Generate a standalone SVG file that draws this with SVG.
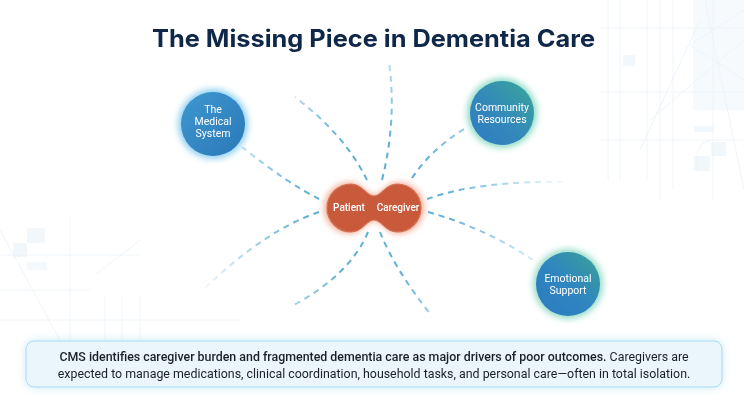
<svg xmlns="http://www.w3.org/2000/svg" width="744" height="400" viewBox="0 0 744 400">
  <defs>
    <style>
      .title { font-family: Inter, "Noto Sans", sans-serif; font-weight: 700; font-size: 24px; fill: #0f2748; }
      .nlabel { font-family: Roboto, "Noto Sans", sans-serif; font-weight: 400; font-size: 10.5px; fill: #ffffff; text-anchor: middle; }
      .clabel { font-family: Roboto, "Noto Sans", sans-serif; font-weight: 500; font-size: 10px; fill: #ffffff; text-anchor: middle; }
      .conn path { fill: none; stroke: #5eb0d8; stroke-width: 2; stroke-dasharray: 6 5; stroke-linecap: butt; }
      .body { font-family: Roboto, "Noto Sans", sans-serif; font-size: 12.4px; fill: #1b1f2a; }
      .bold { font-weight: 500; }
      .deco { fill: none; stroke: #e6eff6; stroke-width: 0.8; }
      .decof { fill: #eef5fb; }
    </style>
    <radialGradient id="fade" gradientUnits="userSpaceOnUse" cx="374" cy="208" r="200">
      <stop offset="0" stop-color="#fff" stop-opacity="1"/>
      <stop offset="0.35" stop-color="#fff" stop-opacity="1"/>
      <stop offset="1" stop-color="#fff" stop-opacity="0"/>
    </radialGradient>
    <mask id="connMask" maskUnits="userSpaceOnUse" x="0" y="0" width="744" height="400">
      <rect x="0" y="0" width="744" height="400" fill="url(#fade)"/>
    </mask>
    <linearGradient id="gBlue" x1="0" y1="0" x2="1" y2="1">
      <stop offset="0" stop-color="#3f98cf"/>
      <stop offset="1" stop-color="#2a78b8"/>
    </linearGradient>
    <linearGradient id="gTeal" x1="1" y1="0" x2="0" y2="1">
      <stop offset="0" stop-color="#3aa797"/>
      <stop offset="0.55" stop-color="#3388bb"/>
      <stop offset="1" stop-color="#2e7cc0"/>
    </linearGradient>
    <linearGradient id="gTeal2" x1="1" y1="0" x2="0" y2="1">
      <stop offset="0" stop-color="#3aa394"/>
      <stop offset="0.5" stop-color="#2f86c0"/>
      <stop offset="1" stop-color="#2c7bbf"/>
    </linearGradient>
    <filter id="glow" x="-50%" y="-50%" width="200%" height="200%">
      <feGaussianBlur stdDeviation="3"/>
    </filter>
    <filter id="boxGlow" x="-10%" y="-50%" width="120%" height="200%">
      <feGaussianBlur stdDeviation="5"/>
    </filter>
    <path id="blob" d="M351 184 C363 184 366 196 374 196 C382 196 385 184 397 184 A24 24 0 0 1 397 232 C385 232 382 220 374 220 C366 220 363 232 351 232 A24 24 0 0 1 351 184 Z"/>
  </defs>

  <rect x="0" y="0" width="744" height="400" fill="#ffffff"/>

  <!-- background decoration -->
  <g id="decoration" opacity="0.8">
    <rect class="decof" x="693" y="0" width="51" height="110" opacity="0.6"/>
    <rect class="decof" x="623" y="55" width="12" height="11"/>
    <rect class="decof" x="694" y="126" width="20" height="6"/>
    <rect class="decof" x="711" y="142" width="15" height="14"/>
    <rect class="decof" x="694" y="156" width="16" height="15"/>
    <path class="deco" d="M608 0 V180 M620 0 V180 M647 0 V180 M660 0 V200 M673 0 V190 M713 0 V200 M600 28 H744 M600 92 H744 M600 140 H744"/>
    <path class="deco" d="M744 10 L690 45 L744 80 M650 120 L744 40 M705 0 L744 190 M700 20 L640 150 M713 140 A16 16 0 0 0 697 156 V171"/>
    <rect class="decof" x="27" y="228" width="18" height="15"/>
    <rect class="decof" x="13" y="243" width="14" height="14"/>
    <rect class="decof" x="27" y="262" width="20" height="8" opacity="0.7"/>
    <path class="deco" d="M0 255 H140 M0 320 H240 M70 215 V340 M0 290 H90 M95 275 L140 240 M0 230 L60 340 M105 295 V340 M122 295 V340 M140 295 V340"/>
  </g>

  <text class="title" x="152" y="47" textLength="443" lengthAdjust="spacingAndGlyphs">The Missing Piece in Dementia Care</text>

  <!-- connectors -->
  <g id="connectors" class="conn" mask="url(#connMask)">
    <path d="M319 199 Q290 185 242 147"/>
    <path d="M319 212 Q265 230 203 290"/>
    <path d="M367 180 Q345 135 295 97"/>
    <path d="M382 180 Q397 120 389 62"/>
    <path d="M412 178 Q432 148 466 128"/>
    <path d="M427 199 Q480 180 572 182"/>
    <path d="M428 212 Q485 228 533 260"/>
    <path d="M368 232 Q350 275 292 306"/>
    <path d="M380 232 Q395 270 432 316"/>
  </g>

  <!-- center node -->
  <g id="node-center">
    <use href="#blob" fill="#f3a890" filter="url(#glow)" transform="translate(374 208) scale(1.06) translate(-374 -208)"/>
    <use href="#blob" fill="#c85a3b" stroke="#d57357" stroke-width="1.2"/>
    <text class="clabel" x="349" y="211">Patient</text>
    <text class="clabel" x="398" y="211">Caregiver</text>
  </g>

  <g id="node-medical">
    <circle cx="213" cy="124" r="35" fill="#8fd0f2" filter="url(#glow)"/>
    <circle cx="213" cy="124" r="32" fill="url(#gBlue)"/>
    <text class="nlabel" x="213" y="113">The</text>
    <text class="nlabel" x="213" y="125">Medical</text>
    <text class="nlabel" x="213" y="137">System</text>
  </g>

  <g id="node-community">
    <circle cx="502" cy="113" r="35" fill="#8fdcc6" filter="url(#glow)"/>
    <circle cx="502" cy="113" r="32" fill="url(#gTeal)"/>
    <text class="nlabel" x="502" y="111">Community</text>
    <text class="nlabel" x="502" y="123">Resources</text>
  </g>

  <g id="node-emotional">
    <circle cx="568" cy="284" r="35" fill="#96dcc8" filter="url(#glow)"/>
    <circle cx="568" cy="284" r="32" fill="url(#gTeal2)"/>
    <text class="nlabel" x="568" y="282">Emotional</text>
    <text class="nlabel" x="568" y="294">Support</text>
  </g>

  <!-- bottom statement box -->
  <g id="statement">
    <rect x="26" y="341" width="696" height="46" rx="8" fill="#c4e8f8" filter="url(#boxGlow)"/>
    <rect x="26" y="341" width="696" height="46" rx="8" fill="#eaf6fc" stroke="#a9dbf0" stroke-width="1"/>
    <text class="body" x="374" y="361" text-anchor="middle"><tspan class="bold">CMS identifies caregiver burden and fragmented dementia care as major drivers of poor outcomes.</tspan> Caregivers are</text>
    <text class="body" x="374" y="378" text-anchor="middle">expected to manage medications, clinical coordination, household tasks, and personal care—often in total isolation.</text>
  </g>
</svg>
